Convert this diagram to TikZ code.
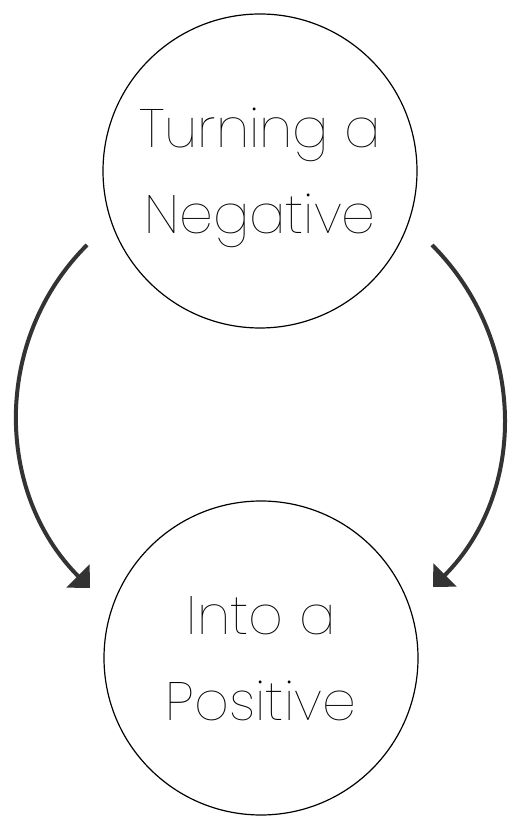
\documentclass[tikz,border=0pt]{standalone}
\usepackage{fontspec}
\setmainfont{Poppins}[UprightFont=* Thin]
\usetikzlibrary{arrows.meta}
\begin{document}
\begin{tikzpicture}[x=1pt,y=1pt,
  bubble/.style={circle,draw=black,line width=1.2pt,minimum size=314pt,inner sep=0pt,align=center,text depth=0pt,font=\fontsize{54}{86}\selectfont},
  flow/.style={line width=4pt,draw=black!80,-{Triangle[length=17pt,width=32pt]}}]
\useasboundingbox[fill=white] (0,0) rectangle (507,816);
\node[bubble] (neg) at (260,645) {Turning a\\Negative};
\node[bubble] (pos) at (261,158) {Into a\\Positive};
\coordinate (ls) at (87,571);
\coordinate (le) at (90,228);
\coordinate (rs) at (432,571);
\coordinate (re) at (433,229);
\draw[flow] (ls) to[out=225,in=135] (le);
\draw[flow] (rs) to[out=-45,in=45] (re);
\end{tikzpicture}
\end{document}
